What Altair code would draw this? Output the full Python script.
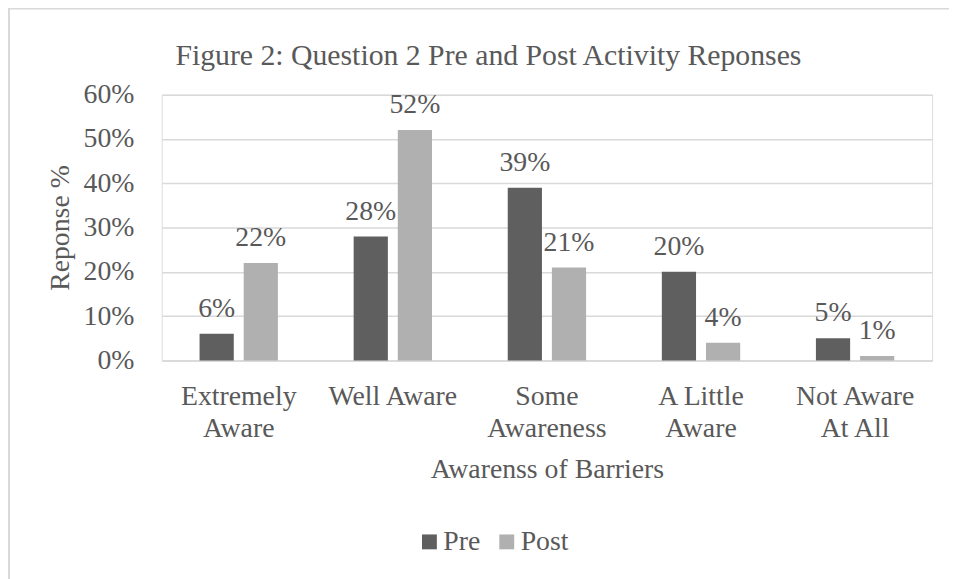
import altair as alt
import pandas as pd

categories = ["Extremely|Aware", "Well Aware", "Some|Awareness", "A Little|Aware", "Not Aware|At All"]
pre_values = [6, 28, 39, 20, 5]
post_values = [22, 52, 21, 4, 1]
series = ["Pre", "Post"]
colors = ["#5f5f5f", "#b0b0b0"]
y_ticks = [0, 10, 20, 30, 40, 50, 60]
title_text = "Figure 2: Question 2 Pre and Post Activity Reponses"

rows = []
for c, a, b in zip(categories, pre_values, post_values):
    rows.append({"cat": c, "series": "Pre", "val": a})
    rows.append({"cat": c, "series": "Post", "val": b})
df = pd.DataFrame(rows)

FONT = "Liberation Serif, Times New Roman, DejaVu Serif, serif"
FS = 28
TXT = "#595959"
GRID = "#d9d9d9"
W, H = 777, 268

x_enc = alt.X("cat:N", sort=categories,
              scale=alt.Scale(paddingInner=0, paddingOuter=0),
              axis=alt.Axis(title="Awarenss of Barriers", labelAngle=0,
                            labelExpr="split(datum.label, '|')",
                            labelBaseline="alphabetic", labelPadding=44,
                            labelLineHeight=33, labelFontSize=FS,
                            labelColor=TXT, labelFont=FONT,
                            ticks=False, domainColor=GRID, domainWidth=1.5,
                            titleFont=FONT, titleFontSize=FS, titleColor=TXT,
                            titleFontWeight="normal", titleX=W / 2, titleY=118,
                            titleBaseline="alphabetic", titleAlign="center"))
xo_enc = alt.XOffset("series:N", sort=series,
                     scale=alt.Scale(paddingInner=0.225, paddingOuter=0.858))
y_enc = alt.Y("val:Q", scale=alt.Scale(domain=[0, 60]),
              axis=alt.Axis(title="Reponse %", values=y_ticks,
                            labelExpr="datum.value + '%'",
                            labelFontSize=FS, labelColor=TXT, labelFont=FONT,
                            labelPadding=28, ticks=False, domain=False,
                            gridColor=GRID, gridWidth=1.5,
                            titleFont=FONT, titleFontSize=FS, titleColor=TXT,
                            titleFontWeight="normal", titleAngle=-90,
                            titleX=-102, titleY=H / 2, titleAlign="center",
                            titleBaseline="middle"))

bars = alt.Chart(df).mark_bar().encode(
    x=x_enc, xOffset=xo_enc, y=y_enc,
    color=alt.Color("series:N", sort=series,
                    scale=alt.Scale(domain=series, range=colors),
                    legend=alt.Legend(title=None, orient="none", direction="horizontal",
                                      legendX=256, legendY=437,
                                      symbolType="square", symbolSize=225,
                                      symbolStrokeWidth=0, labelFontSize=FS,
                                      labelFont=FONT, labelColor=TXT,
                                      labelOffset=0, columnPadding=12)),
)

labels = alt.Chart(df).mark_text(font=FONT, fontSize=FS, color=TXT,
                                 baseline="alphabetic", dy=-17).encode(
    x=alt.X("cat:N", sort=categories), xOffset=alt.XOffset("series:N", sort=series),
    y="val:Q", text=alt.Text("label:N"),
).transform_calculate(label="datum.val + '%'")

one = pd.DataFrame({"t": [title_text]})
title_mark = alt.Chart(one).mark_text(font=FONT, fontSize=30, color=TXT,
                                      baseline="alphabetic", align="center").encode(
    x=alt.value(W / 2 - 59), y=alt.value(-30), text="t:N")

left_border = alt.Chart(one).mark_rule(color=GRID, strokeWidth=2).encode(
    x=alt.value(-154), y=alt.value(-87), y2=alt.value(500))
top_border = alt.Chart(one).mark_rule(color=GRID, strokeWidth=2).encode(
    x=alt.value(-155), x2=alt.value(800), y=alt.value(-87))

chart = alt.layer(bars, labels, title_mark, left_border, top_border).properties(
    width=W, height=H,
    autosize=alt.AutoSizeParams(type="none"),
    padding={"left": 155, "top": 85, "right": 17, "bottom": 218},
).configure_view(stroke=None).configure(background="white")

chart.save("out.html", embed_options={"renderer": "svg", "actions": False})
